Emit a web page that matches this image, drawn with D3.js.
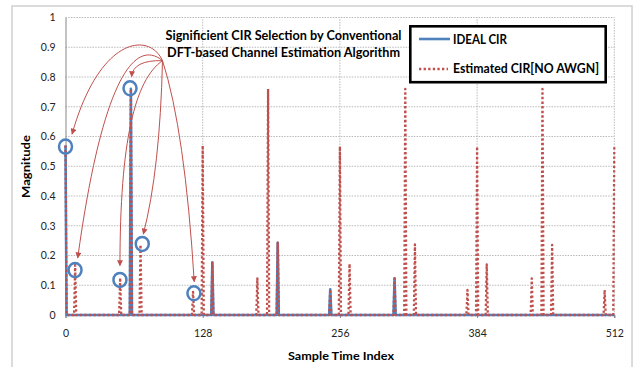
<!DOCTYPE html>
<html lang="en">
<head>
<meta charset="UTF-8">
<title>Significient CIR Selection</title>
<script src="https://d3js.org/d3.v7.min.js"></script>
<style>
  body { margin: 0; background: #fff; }
  svg { display: block; font-family: Lato, "Open Sans", sans-serif; }
</style>
</head>
<body>
<div id="chart"></div>
<script>
// Axis ticks
const xTicks = [0, 128, 256, 384, 512];
const yTicks = [0, 0.1, 0.2, 0.3, 0.4, 0.5, 0.6, 0.7, 0.8, 0.9, 1];
const nSamples = 513; // sample index 0..512

// Ideal CIR taps (every other sample is zero)
const idealIdx = [0, 61, 137, 198, 247, 307];
const idealMag = [0.57, 0.76, 0.177, 0.243, 0.086, 0.123];

// Estimated CIR taps [no AWGN] (every other sample is zero)
const estIdx = [0, 9, 51, 61, 70, 119, 128, 137, 179, 189, 198, 247, 256, 265, 307, 317, 326, 375, 384, 393, 435, 445, 454, 503, 512];
const estMag = [0.57, 0.168, 0.125, 0.76, 0.236, 0.078, 0.57, 0.175, 0.123, 0.76, 0.243, 0.086, 0.566, 0.172, 0.123, 0.76, 0.237, 0.084, 0.566, 0.17, 0.123, 0.76, 0.236, 0.084, 0.566];

// Circled peaks picked by the algorithm
const markIdx = [0, 8.9, 50.8, 60.2, 71.6, 119.8];
const markMag = [0.566, 0.151, 0.118, 0.762, 0.239, 0.073];

// Annotation arrows: common start, then control points + end (data units)
const arrowFrom = [90.5, 0.855];
const arrowCurves = [
  [[78.8, 0.951], [32.2, 0.941], [6.1, 0.608]],
  [[62.9, 0.857], [61.7, 0.801]],
  [[69.5, 0.918], [36.8, 0.857], [11.4, 0.192]],
  [[64.8, 0.79], [50.8, 0.588], [50.8, 0.166]],
  [[88.1, 0.487], [72.6, 0.272]],
  [[111.4, 0.622], [120.1, 0.112]]
];

const titleLines = ["Significient CIR Selection by Conventional", "DFT-based Channel Estimation Algorithm"];
const seriesNames = ["IDEAL CIR", "Estimated CIR[NO AWGN]"];

const blue = "#4f81bd", red = "#c0504d";
const width = 639, height = 367;

// full sample series built from the tap tables
function series(idx, mag) {
  const m = new Map(idx.map((d, i) => [d, mag[i]]));
  return d3.range(nSamples).map(i => ({ i, v: m.has(i) ? m.get(i) : 0 }));
}
const ideal = series(idealIdx, idealMag);
const est = series(estIdx, estMag);

const x = d3.scaleLinear().domain([0, 512]).range([65.5, 614.3]);
const y = d3.scaleLinear().domain([0, 1]).range([315, 17.5]);

const svg = d3.select("#chart").append("svg")
  .attr("width", width).attr("height", height);

// outer chart border
svg.append("rect")
  .attr("x", 12).attr("y", 6).attr("width", 620).attr("height", 370)
  .attr("fill", "none").attr("stroke", "#d0d0d0").attr("stroke-width", 1.5);

// gridlines
const grid = svg.append("g").attr("stroke", "#a8a8a8").attr("stroke-width", 0.8)
  .attr("stroke-dasharray", "1.5,1.2");
grid.selectAll(".hy").data(yTicks.filter(d => d > 0)).join("line")
  .attr("x1", x(0)).attr("x2", x(512))
  .attr("y1", d => y(d)).attr("y2", d => y(d));
grid.selectAll(".vx").data(xTicks.filter(d => d > 0)).join("line")
  .attr("x1", d => x(d)).attr("x2", d => x(d))
  .attr("y1", y(0)).attr("y2", y(1));

// axes
const yAxis = svg.append("g").attr("transform", `translate(${x(0)},0)`)
  .call(d3.axisLeft(y).tickValues(yTicks).tickFormat(d3.format(".1~f")).tickSize(0).tickPadding(10));
yAxis.select(".domain").attr("stroke", "#868686");
yAxis.selectAll("text").attr("font-size", 10.5).attr("fill", "#222").attr("font-family", "Lato");

const xAxis = svg.append("g").attr("transform", `translate(0,${y(0)})`)
  .call(d3.axisBottom(x).tickValues(xTicks).tickSize(3).tickPadding(11.5));
xAxis.select(".domain").attr("stroke", "#868686");
xAxis.selectAll(".tick line").attr("stroke", "#868686");
xAxis.selectAll("text").attr("font-size", 10.5).attr("fill", "#222").attr("font-family", "Lato");

// series
const line = d3.line().x(d => x(d.i)).y(d => y(d.v));
svg.append("path").datum(ideal).attr("d", line)
  .attr("fill", "none").attr("stroke", blue).attr("stroke-width", 2.6)
  .attr("stroke-linejoin", "round");
svg.append("path").datum(est).attr("d", line)
  .attr("fill", "none").attr("stroke", red).attr("stroke-width", 2.3)
  .attr("stroke-dasharray", "2.3,2.3").attr("stroke-linejoin", "round");

// title
svg.append("g").attr("font-weight", "bold").attr("font-size", 12.5).attr("fill", "#000")
  .selectAll("text").data(titleLines).join("text")
  .attr("x", 283.5).attr("y", (d, i) => 40 + i * 17)
  .attr("text-anchor", "middle")
  .attr("textLength", (d, i) => i === 0 ? 236 : 233)
  .attr("lengthAdjust", "spacingAndGlyphs")
  .text(d => d);

// legend
const lg = svg.append("g");
lg.append("rect").attr("x", 410.3).attr("y", 26.3).attr("width", 195.4).attr("height", 55.9)
  .attr("fill", "#fff").attr("stroke", "#000").attr("stroke-width", 2.6);
lg.append("line").attr("x1", 419).attr("x2", 450).attr("y1", 39).attr("y2", 39)
  .attr("stroke", blue).attr("stroke-width", 2.6);
lg.append("line").attr("x1", 419).attr("x2", 448).attr("y1", 69).attr("y2", 69)
  .attr("stroke", red).attr("stroke-width", 2.3).attr("stroke-dasharray", "2.3,2.3");
lg.selectAll("text").data(seriesNames).join("text")
  .attr("x", 453).attr("y", (d, i) => i === 0 ? 43.5 : 73.3)
  .attr("font-weight", "bold").attr("font-size", 12.5).attr("fill", "#000")
  .attr("textLength", (d, i) => i === 0 ? 54 : 146)
  .attr("lengthAdjust", "spacingAndGlyphs")
  .text(d => d);

// axis titles
svg.append("text").attr("x", 341).attr("y", 360).attr("text-anchor", "middle")
  .attr("font-weight", "bold").attr("font-size", 12).attr("fill", "#000")
  .attr("textLength", 106).attr("lengthAdjust", "spacingAndGlyphs")
  .text("Sample Time Index");
svg.append("text").attr("transform", "translate(30,166.5) rotate(-90)")
  .attr("text-anchor", "middle")
  .attr("font-weight", "bold").attr("font-size", 12).attr("fill", "#000")
  .attr("textLength", 63).attr("lengthAdjust", "spacingAndGlyphs")
  .text("Magnitude");

// annotation arrows
svg.append("defs").append("marker")
  .attr("id", "head").attr("viewBox", "0 0 10 10").attr("refX", 9).attr("refY", 5)
  .attr("markerWidth", 7).attr("markerHeight", 6).attr("markerUnits", "userSpaceOnUse")
  .attr("orient", "auto")
  .append("path").attr("d", "M0,0L10,5L0,10Z").attr("fill", red);

svg.append("g").selectAll("path").data(arrowCurves).join("path")
  .attr("d", c => {
    const p = d3.path();
    const P = c.map(q => [x(q[0]), y(q[1])]);
    p.moveTo(x(arrowFrom[0]), y(arrowFrom[1]));
    if (P.length === 3) p.bezierCurveTo(P[0][0], P[0][1], P[1][0], P[1][1], P[2][0], P[2][1]);
    else p.quadraticCurveTo(P[0][0], P[0][1], P[1][0], P[1][1]);
    return p.toString();
  })
  .attr("fill", "none").attr("stroke", red).attr("stroke-width", 1)
  .attr("marker-end", "url(#head)");

// circled peaks
svg.append("g").selectAll("ellipse").data(markIdx).join("ellipse")
  .attr("cx", d => x(d)).attr("cy", (d, i) => y(markMag[i]))
  .attr("rx", 6.5).attr("ry", 7)
  .attr("fill", "none").attr("stroke", blue).attr("stroke-width", 2.5);
</script>
</body>
</html>
